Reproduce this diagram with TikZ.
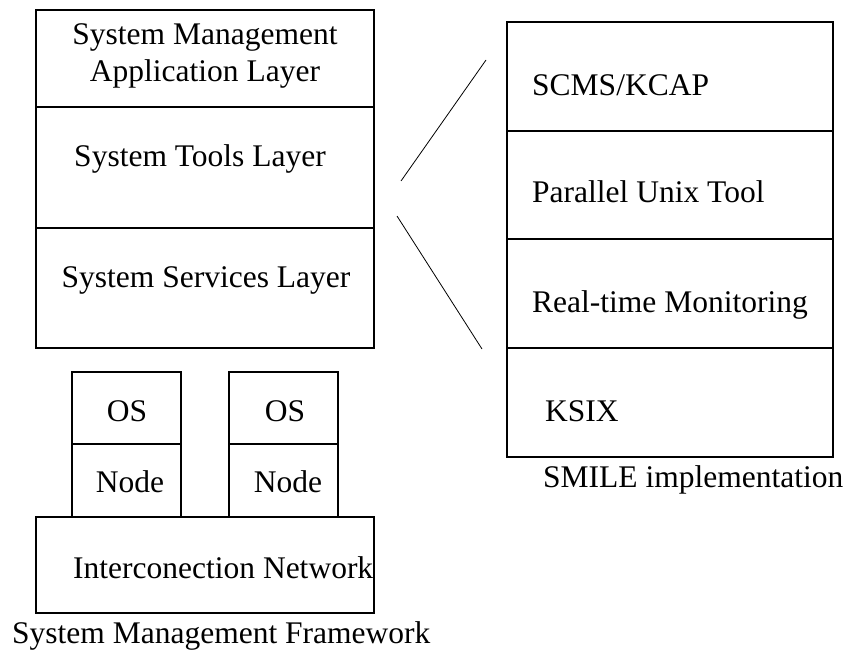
\documentclass[tikz,border=0pt]{standalone}
\usepackage{fontspec}
\setmainfont{Liberation Serif}
\usetikzlibrary{positioning}

\begin{document}
\begin{tikzpicture}[x=1pt, y=-1pt]
\tikzstyle{layer}=[rectangle, draw=black, line width=1.4pt, inner sep=0pt, outer sep=0pt, anchor=north west]
\tikzstyle{txt}=[font=\fontsize{31.5}{37}\selectfont, inner sep=0pt, anchor=base, text=black]
\tikzstyle{ltxt}=[txt, anchor=base west]
\tikzstyle{zoomline}=[-, line width=0.8pt]

\def \w {338}
\def \r {326}
\def \n {109}

\useasboundingbox (0,0) rectangle (850,656);

% framework stack
\node (app) [layer, minimum width=\w pt, minimum height=97pt] at (36,10) {};
\node (tools) [layer, minimum width=\w pt, minimum height=121pt] at (app.south west) {};
\node (serv) [layer, minimum width=\w pt, minimum height=120pt] at (tools.south west) {};

\node (os1) [layer, minimum width=\n pt, minimum height=72pt] at (72,372) {};
\node (node1) [layer, minimum width=\n pt, minimum height=73pt] at (os1.south west) {};
\node (os2) [layer, minimum width=\n pt, minimum height=72pt] at (229,372) {};
\node (node2) [layer, minimum width=\n pt, minimum height=73pt] at (os2.south west) {};

\node (net) [layer, minimum width=\w pt, minimum height=96pt] at (36,517) {};

\node (appT) [txt, anchor=center, align=center] at (205,56) {System Management\\Application Layer};
\node (toolsT) [txt] at (200,166) {System Tools Layer};
\node (servT) [txt] at (206,287) {System Services Layer};
\node (os1T) [txt] at (127,421) {OS};
\node (node1T) [txt] at (130,492) {Node};
\node (os2T) [txt] at (285,421) {OS};
\node (node2T) [txt] at (288,492) {Node};
\node (netT) [ltxt] at (73,578) {Interconection Network};
\node (fwT) [ltxt] at (12,643) {System Management Framework};

% smile stack
\node (scms) [layer, minimum width=\r pt, minimum height=109pt] at (507,22) {};
\node (unix) [layer, minimum width=\r pt, minimum height=108pt] at (scms.south west) {};
\node (mon) [layer, minimum width=\r pt, minimum height=109pt] at (unix.south west) {};
\node (ksix) [layer, minimum width=\r pt, minimum height=109pt] at (mon.south west) {};

\node (scmsT) [ltxt] at (532,95) {SCMS/KCAP};
\node (unixT) [ltxt] at (532,202) {Parallel Unix Tool};
\node (monT) [ltxt] at (532,312) {Real-time Monitoring};
\node (ksixT) [ltxt] at (545,421) {KSIX};
\node (smileT) [ltxt] at (543,487) {SMILE implementation};

% zoom lines
\coordinate (za) at (486,60);
\coordinate (zb) at (401,181);
\coordinate (zc) at (397,216);
\coordinate (zd) at (482,349);
\draw[zoomline] (za) -- (zb);
\draw[zoomline] (zc) -- (zd);

\end{tikzpicture}
\end{document}
